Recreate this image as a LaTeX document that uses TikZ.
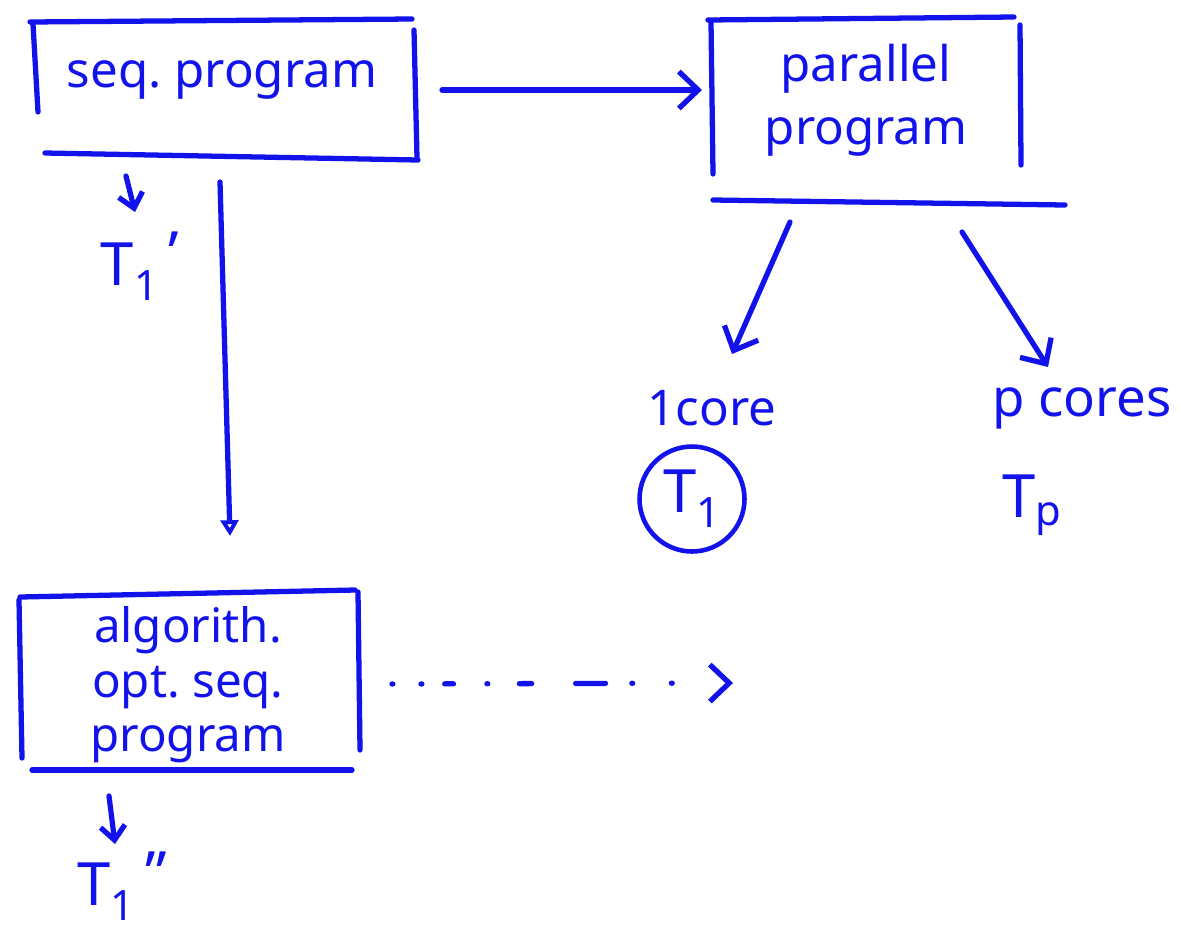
\documentclass[tikz,border=0pt]{standalone}
\usepackage{fontspec}
\setmainfont{Noto Sans}
\usetikzlibrary{arrows.meta}
\definecolor{ink}{RGB}{18,18,235}
\begin{document}
\begin{tikzpicture}[x=0.02cm,y=-0.02cm,
  pen/.style={draw=ink, line width=3pt, line cap=round, line join=round},
  txt/.style={text=ink, font=\fontsize{28}{34}\selectfont, inner sep=0pt, align=center},
  tlabel/.style={txt, font=\fontsize{34}{40}\selectfont},
  bigbarb/.style={-{Straight Barb[length=11pt,width=21pt]}},
  smallbarb/.style={-{Straight Barb[length=8pt,width=14pt]}},
  opentri/.style={-{Triangle[open,length=9pt,width=10pt]}},
]
\useasboundingbox (0,0) rectangle (1195,937);

% ---- sequential program box
\node[txt] (seq) at (222,80) {seq.\ program};
\draw[pen] (30,22) -- (412,19);
\draw[pen] (33,24) -- (38,112);
\draw[pen] (45,153) -- (418,160);
\draw[pen] (414,30) -- (417,158);

% ---- parallel program box
\node[txt, font=\fontsize{28}{36}\selectfont] (par) at (866,100) {parallel\\program};
\draw[pen] (708,20) -- (1014,17);
\draw[pen] (711,22) -- (713,174);
\draw[pen] (1020,25) -- (1021,165);
\draw[pen] (713,200) -- (1065,205);

% ---- algorithmically optimal sequential program box
\node[txt, font=\fontsize{27}{31}\selectfont] (alg) at (188,685) {algorith.\\opt.\ seq.\\program};
\draw[pen] (20,597) -- (355,590);
\draw[pen] (19,600) -- (22,758);
\draw[pen] (358,592) -- (360,750);
\draw[pen] (32,770) -- (352,770);

% ---- connector end points
\coordinate (seqout) at (442,90);
\coordinate (parin) at (702,90);
\coordinate (seqdown) at (126,176);
\coordinate (t1pin) at (135,212);
\coordinate (seqlong) at (220,182);
\coordinate (algin) at (230,536);
\coordinate (algdown) at (109,796);
\coordinate (t1ppin) at (115,844);
\coordinate (algout) at (392,684);
\coordinate (dotend) at (733,683);
\coordinate (parl) at (790,222);
\coordinate (onecorein) at (732,354);
\coordinate (parr) at (962,232);
\coordinate (pcorein) at (1048,367);

% ---- labels
\node[tlabel] (t1p) at (140,266) {T\textsubscript{1}\,\raisebox{0.35ex}{'}};
\node[tlabel] (t1pp) at (122,886) {T\textsubscript{1}\,\raisebox{0.35ex}{\char"22}};
\node[txt] (onecore) at (712,408) {1core};
\node[txt, font=\fontsize{30}{36}\selectfont] (pcores) at (1082,408) {p cores};
\node[tlabel, draw=ink, line width=2.6pt, circle, minimum size=2.1cm] (t1) at (692,499) {T\textsubscript{1}};
\node[tlabel] (tp) at (1032,505) {T\textsubscript{p}};

% ---- connectors
\draw[pen, bigbarb] (seqout) -- (parin);
\draw[pen, smallbarb] (seqdown) -- (t1pin);
\draw[pen, opentri] (seqlong) -- (algin);
\draw[pen, smallbarb] (algdown) -- (t1ppin);
\draw[pen, bigbarb] (parl) -- (onecorein);
\draw[pen, bigbarb] (parr) -- (pcorein);
\draw[pen, bigbarb, dash pattern=on 0.5pt off 16pt on 0.5pt off 13pt on 5pt off 19pt on 0.5pt off 18pt on 7pt off 25pt on 17pt off 15pt on 0.5pt off 22pt on 0.5pt off 40pt]
  (algout) -- (dotend);
\end{tikzpicture}
\end{document}
